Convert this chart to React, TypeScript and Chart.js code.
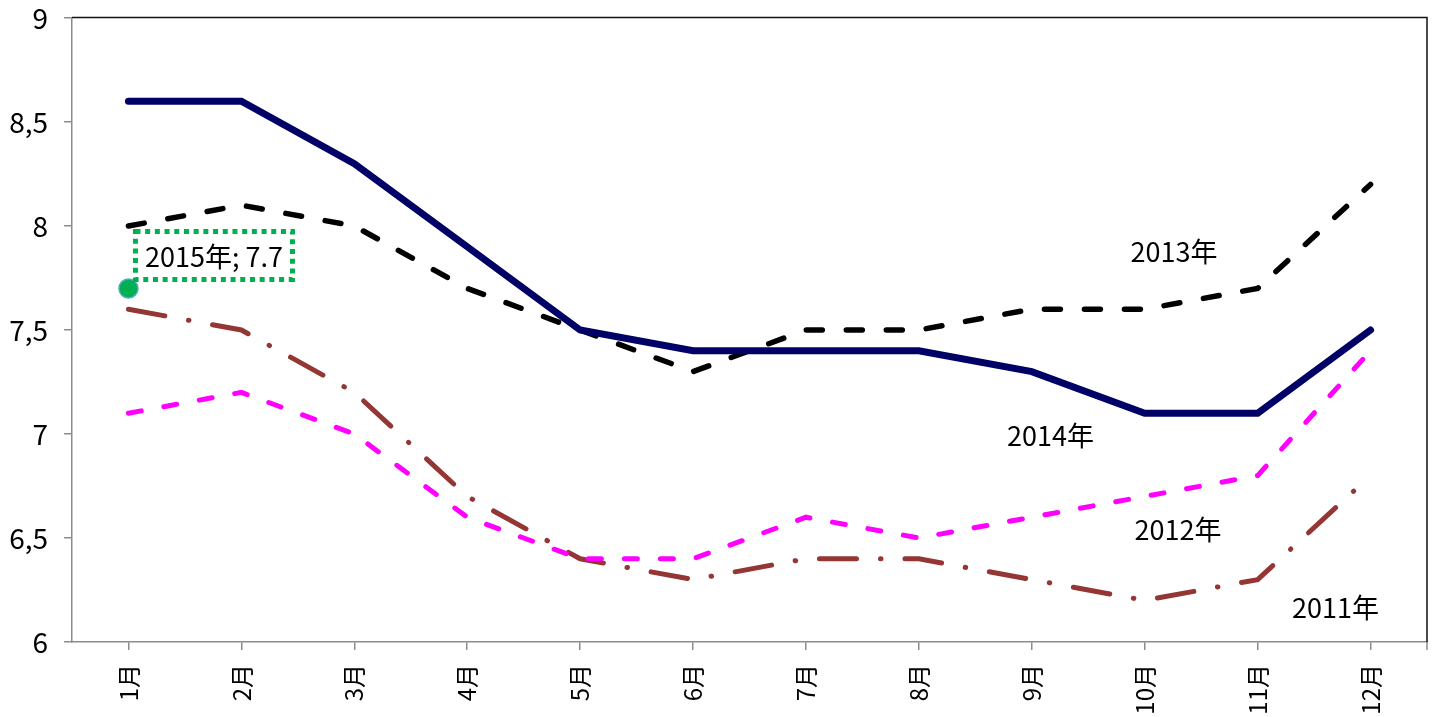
import { useEffect, useRef } from "react";
import { Chart, registerables } from "chart.js";

Chart.register(...registerables);

// Month categories along the x axis
const months = ["1月", "2月", "3月", "4月", "5月", "6月", "7月", "8月", "9月", "10月", "11月", "12月"];

// Monthly values per year
const y2011 = [7.6, 7.5, 7.2, 6.7, 6.4, 6.3, 6.4, 6.4, 6.3, 6.2, 6.3, 6.8];
const y2012 = [7.1, 7.2, 7.0, 6.6, 6.4, 6.4, 6.6, 6.5, 6.6, 6.7, 6.8, 7.4];
const y2013 = [8.0, 8.1, 8.0, 7.7, 7.5, 7.3, 7.5, 7.5, 7.6, 7.6, 7.7, 8.2];
const y2014 = [8.6, 8.6, 8.3, 7.9, 7.5, 7.4, 7.4, 7.4, 7.3, 7.1, 7.1, 7.5];
const y2015 = [7.7, null, null, null, null, null, null, null, null, null, null, null];

const seriesNames = ["2011年", "2012年", "2013年", "2014年", "2015年"];

// Value axis ticks
const yTicks = [6, 6.5, 7, 7.5, 8, 8.5, 9];

const FONT = "'Noto Sans CJK JP', 'Noto Sans', sans-serif";
const AXIS_GRAY = "#8c8c8c";

// Where each series name sits, in (category index, value) units
const nameAnchors: { name: string; xi: number; v: number }[] = [
  { name: seriesNames[2], xi: 9.26, v: 7.875 },
  { name: seriesNames[3], xi: 8.165, v: 6.99 },
  { name: seriesNames[1], xi: 9.294, v: 6.538 },
  { name: seriesNames[0], xi: 10.69, v: 6.163 },
];

const overlayPlugin = {
  id: "overlay",
  afterDatasetsDraw(chart: any) {
    const { ctx, chartArea: a, scales } = chart;
    const x = scales.x;
    const y = scales.y;
    ctx.save();

    // Frame on top and right of the plot
    ctx.strokeStyle = "#111";
    ctx.lineWidth = 1.5;
    ctx.setLineDash([]);
    ctx.beginPath();
    ctx.moveTo(a.left, a.top - 0.5);
    ctx.lineTo(a.right, a.top - 0.5);
    ctx.lineTo(a.right, a.bottom);
    ctx.stroke();

    // Closing tick at the right end of the category axis
    ctx.strokeStyle = AXIS_GRAY;
    ctx.beginPath();
    ctx.moveTo(a.right, a.bottom);
    ctx.lineTo(a.right, a.bottom + 8);
    ctx.stroke();

    // Series names
    ctx.fillStyle = "#000";
    ctx.font = `27px ${FONT}`;
    ctx.textAlign = "center";
    ctx.textBaseline = "middle";
    for (const n of nameAnchors) {
      ctx.fillText(n.name, x.getPixelForValue(n.xi), y.getPixelForValue(n.v));
    }

    // Data label for the single 2015 point
    const meta = chart.getDatasetMeta(0);
    const pt = meta.data[0];
    if (pt) {
      const px = pt.x;
      const py = pt.y;
      const left = px + 7;
      const top = py - 57;
      const w = 157;
      const h = 48;
      ctx.strokeStyle = "#00B050";
      ctx.lineWidth = 5;
      ctx.setLineDash([5, 4.7]);
      ctx.lineCap = "butt";
      ctx.strokeRect(left, top, w, h);
      ctx.setLineDash([]);
      ctx.fillStyle = "#000";
      ctx.fillText(`${seriesNames[4]}; ${y2015[0]}`, left + w / 2, top + h / 2 + 1);
    }
    ctx.restore();
  },
};

export default function App() {
  const canvasRef = useRef<HTMLCanvasElement | null>(null);

  useEffect(() => {
    const canvas = canvasRef.current;
    if (!canvas) return;

    const chart = new Chart(canvas, {
      type: "line",
      data: {
        labels: months,
        datasets: [
          {
            label: seriesNames[4],
            data: y2015,
            showLine: false,
            pointRadius: 9.5,
            pointBackgroundColor: "#00B050",
            pointBorderColor: "#4BACC6",
            pointBorderWidth: 1.5,
          },
          {
            label: seriesNames[3],
            data: y2014,
            borderColor: "#000066",
            borderWidth: 7,
            borderCapStyle: "round",
            pointRadius: 0,
          },
          {
            label: seriesNames[2],
            data: y2013,
            borderColor: "#000000",
            borderWidth: 5.5,
            borderDash: [16, 24],
            borderCapStyle: "round",
            pointRadius: 0,
          },
          {
            label: seriesNames[1],
            data: y2012,
            borderColor: "#FF00FF",
            borderWidth: 5,
            borderDash: [13, 23],
            borderCapStyle: "round",
            pointRadius: 0,
          },
          {
            label: seriesNames[0],
            data: y2011,
            borderColor: "#943634",
            borderWidth: 5,
            borderDash: [37, 24, 0.5, 24],
            borderCapStyle: "round",
            pointRadius: 0,
          },
        ],
      },
      options: {
        responsive: false,
        animation: false,
        layout: { padding: { top: 18, right: 6, left: 0, bottom: 0 } },
        plugins: {
          legend: { display: false },
          tooltip: { enabled: false },
        },
        scales: {
          x: {
            type: "category",
            offset: true,
            border: { display: true, color: AXIS_GRAY, width: 1.5 },
            grid: {
              display: true,
              drawOnChartArea: false,
              drawTicks: true,
              tickLength: 8,
              color: AXIS_GRAY,
              lineWidth: 1.5,
              offset: false,
            },
            ticks: {
              autoSkip: false,
              minRotation: 90,
              maxRotation: 90,
              padding: 14,
              color: "#000",
              font: { family: FONT, size: 24 },
            },
            afterFit(scale: any) {
              scale.height = 75;
              scale.paddingLeft = 0;
              scale.paddingRight = 0;
            },
          },
          y: {
            type: "linear",
            min: 6,
            max: 9,
            border: { display: true, color: AXIS_GRAY, width: 1.5 },
            grid: {
              display: true,
              drawOnChartArea: false,
              drawTicks: true,
              tickLength: 8,
              color: AXIS_GRAY,
              lineWidth: 1.5,
            },
            afterBuildTicks(scale: any) {
              scale.ticks = yTicks.map((v) => ({ value: v }));
            },
            ticks: {
              padding: 16,
              color: "#000",
              font: { family: FONT, size: 28 },
              callback: (v: any) => String(v).replace(".", ","),
            },
            afterFit(scale: any) {
              scale.width = 72;
              scale.paddingTop = 0;
              scale.paddingBottom = 0;
            },
          },
        },
      },
      plugins: [overlayPlugin],
    });

    return () => chart.destroy();
  }, []);

  return (
    <div style={{ position: "absolute", left: 0, top: 0, width: 1438, height: 717, background: "#fff" }}>
      <canvas ref={canvasRef} width={1438} height={717} style={{ display: "block" }} />
    </div>
  );
}
